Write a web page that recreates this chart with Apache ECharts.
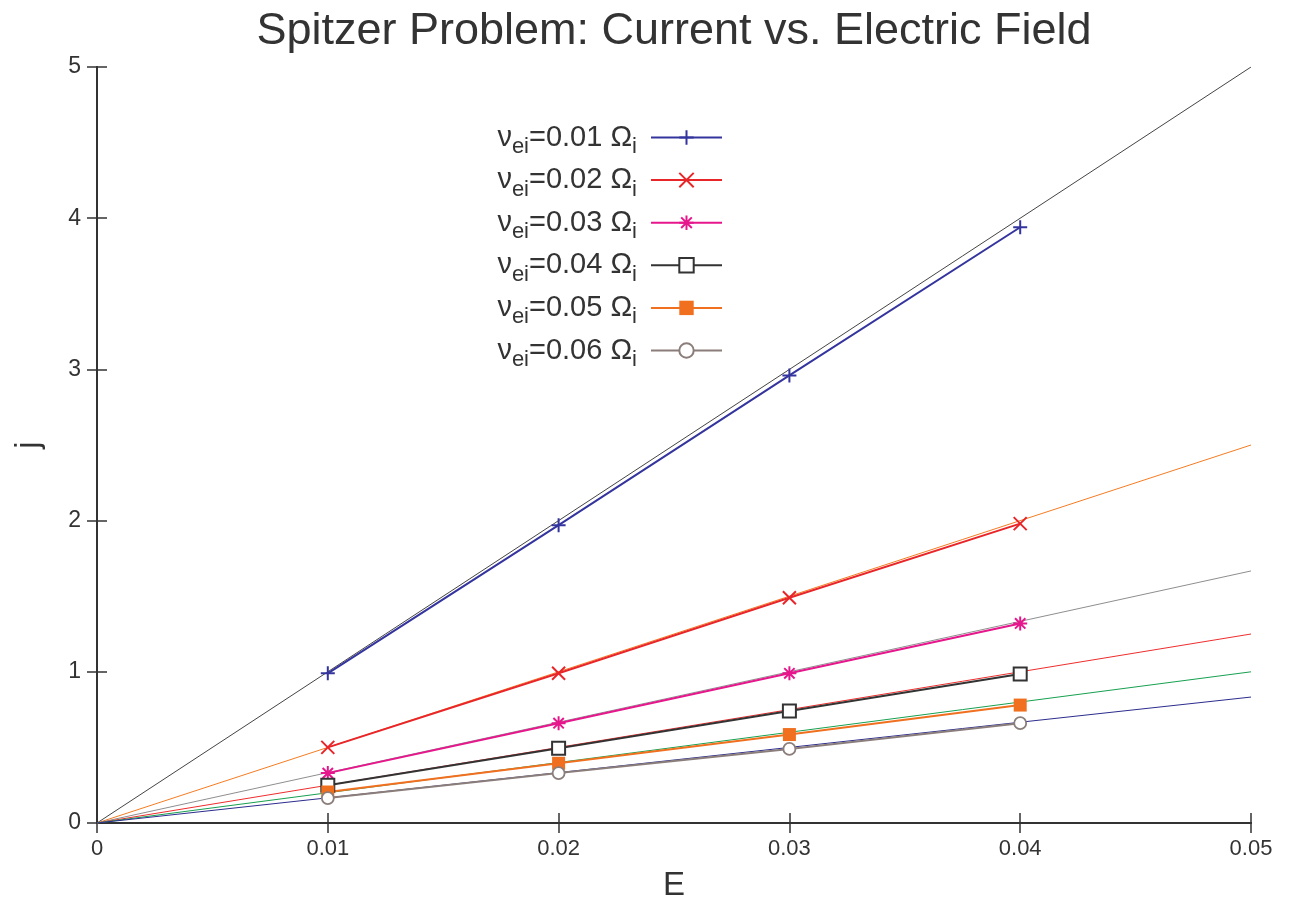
<!DOCTYPE html>
<html>
<head>
<meta charset="utf-8">
<script src="https://cdn.jsdelivr.net/npm/echarts@6/dist/echarts.min.js"></script>
<style>
  html, body { margin: 0; padding: 0; background: #fff; }
  #chart { width: 1300px; height: 904px; }
</style>
</head>
<body>
<div id="chart"></div>
<script>
// Measured current j at each applied field E, one list per collision rate
const fieldE = [0.01, 0.02, 0.03, 0.04];
const nuLabels = ['0.01', '0.02', '0.03', '0.04', '0.05', '0.06'];
const j001 = [0.99, 1.97, 2.96, 3.94];
const j002 = [0.50, 0.99, 1.49, 1.98];
const j003 = [0.33, 0.66, 0.99, 1.32];
const j004 = [0.25, 0.495, 0.74, 0.985];
const j005 = [0.205, 0.395, 0.585, 0.78];
const j006 = [0.165, 0.33, 0.49, 0.66];
const measured = [j001, j002, j003, j004, j005, j006];

// Spitzer reference lines j = E / nu, drawn from the origin to the axis end
const theoryE = [0, 0.05];
const theoryJEnd = [5, 2.5, 1.667, 1.25, 1.0, 0.833];

const xTicks = [0, 0.01, 0.02, 0.03, 0.04, 0.05];
const yTicks = [0, 1, 2, 3, 4, 5];

const dataColors = ['#34349e', '#e8262a', '#e6168c', '#333333', '#f07020', '#8a7d7a'];
const theoryColors = ['#444444', '#f47c22', '#8e8e8e', '#ee2d2d', '#17a050', '#2c2c8e'];

const plusPath = 'path://M0,5 L10,5 M5,0 L5,10';
const crossPath = 'path://M0,0 L10,10 M10,0 L0,10';
const starPath = 'path://M0,5 L10,5 M5,0 L5,10 M1.3,1.3 L8.7,8.7 M8.7,1.3 L1.3,8.7';

const markerStyles = [
  { symbol: plusPath, symbolSize: 14, itemStyle: { color: 'none', borderColor: dataColors[0], borderWidth: 2 } },
  { symbol: crossPath, symbolSize: 13, itemStyle: { color: 'none', borderColor: dataColors[1], borderWidth: 2 } },
  { symbol: starPath, symbolSize: 14, itemStyle: { color: 'none', borderColor: dataColors[2], borderWidth: 2 } },
  { symbol: 'rect', symbolSize: 13, itemStyle: { color: '#ffffff', borderColor: dataColors[3], borderWidth: 2 } },
  { symbol: 'rect', symbolSize: 13, itemStyle: { color: dataColors[4], borderWidth: 0 } },
  { symbol: 'circle', symbolSize: 12, itemStyle: { color: '#ffffff', borderColor: dataColors[5], borderWidth: 1.8 } }
];

const seriesNames = nuLabels.map(v => 'νei=' + v + ' Ωi');

const series = [];
theoryJEnd.forEach((jEnd, i) => {
  series.push({
    name: 'theory ' + nuLabels[i],
    type: 'line',
    data: theoryE.map((e, k) => [e, k === 0 ? 0 : jEnd]),
    showSymbol: false,
    symbol: 'none',
    silent: true,
    z: 2,
    lineStyle: { color: theoryColors[i], width: 1 }
  });
});
measured.forEach((vals, i) => {
  series.push(Object.assign({
    name: seriesNames[i],
    type: 'line',
    data: fieldE.map((e, k) => [e, vals[k]]),
    z: 3,
    lineStyle: { color: dataColors[i], width: 2 }
  }, markerStyles[i]));
});

const axisColor = '#333333';
const fontFamily = '"Liberation Sans", Arial, Helvetica, sans-serif';

const chart = echarts.init(document.getElementById('chart'), null, { renderer: 'canvas' });
chart.setOption({
  backgroundColor: '#ffffff',
  animation: false,
  textStyle: { fontFamily: fontFamily },
  title: {
    text: 'Spitzer Problem: Current vs. Electric Field',
    left: 669,
    textAlign: 'center',
    top: 4,
    textStyle: { fontSize: 45, fontWeight: 'normal', color: '#333333', fontFamily: fontFamily }
  },
  grid: { left: 97, right: 49, top: 67, bottom: 81, containLabel: false, outerBoundsMode: 'none' },
  legend: {
    data: seriesNames,
    orient: 'vertical',
    right: 572,
    top: 118,
    align: 'right',
    itemWidth: 71,
    itemHeight: 18,
    itemGap: 7.6,
    formatter: function (name) {
      const m = name.match(/^νei=(\S+) Ωi$/);
      return '{n|ν}{s|ei}{n|=' + m[1] + ' Ω}{s|i}';
    },
    textStyle: {
      padding: [0, 9, 0, 0],
      color: '#333333',
      rich: {
        n: { fontSize: 29, lineHeight: 29, verticalAlign: 'top', color: '#333333', fontFamily: fontFamily },
        s: { fontSize: 22, lineHeight: 22, verticalAlign: 'top', padding: [13, 0, 0, 0], color: '#333333', fontFamily: fontFamily }
      }
    }
  },
  xAxis: [
    {
      type: 'value', min: 0, max: 0.05, interval: 0.01,
      name: 'E', nameLocation: 'middle', nameGap: 46,
      nameTextStyle: { fontSize: 33, color: '#333333' },
      axisLine: { show: true, lineStyle: { color: axisColor, width: 2 } },
      axisTick: { show: true, inside: true, length: 10, lineStyle: { color: axisColor, width: 1.5 } },
      axisLabel: {
        fontSize: 22, color: '#333333', margin: 15,
        formatter: v => (v === 0 ? '0' : v.toFixed(2))
      },
      splitLine: { show: false }
    },
    {
      type: 'value', min: 0, max: 0.05, interval: 0.01, position: 'top',
      axisLine: { show: true, lineStyle: { color: axisColor, width: 2 } },
      axisTick: { show: true, inside: true, length: 10, lineStyle: { color: axisColor, width: 1.5 } },
      axisLabel: { show: false },
      splitLine: { show: false }
    }
  ],
  yAxis: [
    {
      type: 'value', min: yTicks[0], max: yTicks[yTicks.length - 1], interval: 1,
      name: 'j', nameLocation: 'middle', nameGap: 52, nameRotate: 90,
      nameTextStyle: { fontSize: 33, color: '#333333' },
      axisLine: { show: true, lineStyle: { color: axisColor, width: 2 } },
      axisTick: { show: true, inside: true, length: 10, lineStyle: { color: axisColor, width: 1.5 } },
      axisLabel: { fontSize: 23, color: '#333333', margin: 16 },
      splitLine: { show: false }
    },
    {
      type: 'value', min: 0, max: 5, interval: 1, position: 'right',
      axisLine: { show: true, lineStyle: { color: axisColor, width: 2 } },
      axisTick: { show: true, inside: true, length: 10, lineStyle: { color: axisColor, width: 1.5 } },
      axisLabel: { show: false },
      splitLine: { show: false }
    }
  ],
  series: series
});
</script>
</body>
</html>
